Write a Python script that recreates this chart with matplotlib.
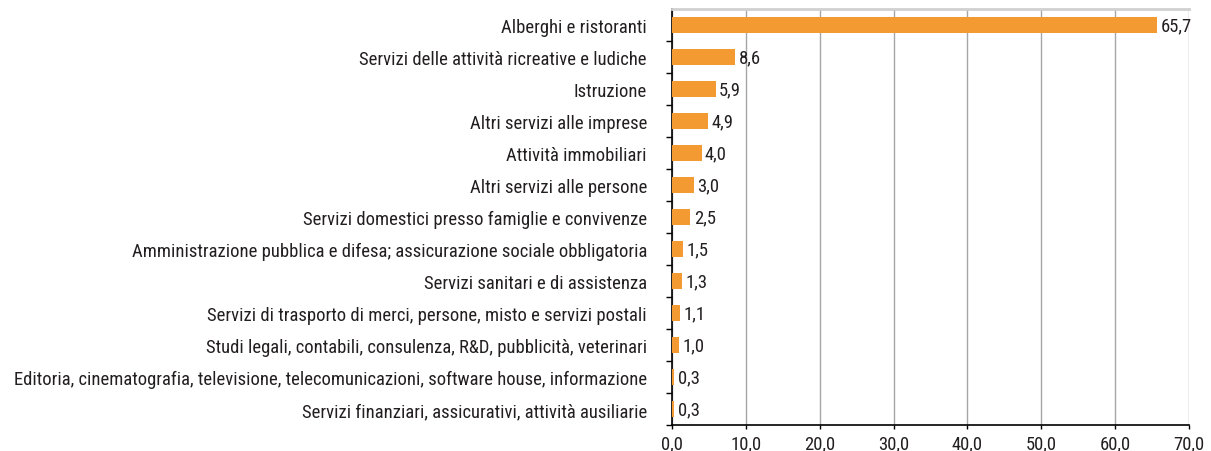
import matplotlib
matplotlib.use("Agg")
import matplotlib.pyplot as plt
from matplotlib import font_manager

CATEGORIE = [
    "Alberghi e ristoranti",
    "Servizi delle attività ricreative e ludiche",
    "Istruzione",
    "Altri servizi alle imprese",
    "Attività immobiliari",
    "Altri servizi alle persone",
    "Servizi domestici presso famiglie e convivenze",
    "Amministrazione pubblica e difesa; assicurazione sociale obbligatoria",
    "Servizi sanitari e di assistenza",
    "Servizi di trasporto di merci, persone, misto e servizi postali",
    "Studi legali, contabili, consulenza, R&D, pubblicità, veterinari",
    "Editoria, cinematografia, televisione, telecomunicazioni, software house, informazione",
    "Servizi finanziari, assicurativi, attività ausiliarie",
]
VALORI = [65.7, 8.6, 5.9, 4.9, 4.0, 3.0, 2.5, 1.5, 1.3, 1.1, 1.0, 0.3, 0.3]
TICKS_X = [0, 10, 20, 30, 40, 50, 60, 70]

# font stretto tipo Univers Condensed
nomi = {f.name for f in font_manager.fontManager.ttflist}
candidati = ["Roboto Condensed", "Archivo Narrow", "Barlow Condensed", "DejaVu Sans"]
FONT = next(c for c in candidati if c in nomi)
plt.rcParams["font.family"] = [FONT, "DejaVu Sans"]
plt.rcParams["font.size"] = 13.4

ARANCIO = "#F39A33"
TESTO = "#231F20"

fig = plt.figure(figsize=(12.11, 4.52), dpi=100)
ax = fig.add_axes([0.5549, 0.0575, 0.4269, 0.9204])

pos = list(range(len(CATEGORIE)))
ax.barh(pos, VALORI, height=0.47, color=ARANCIO, zorder=3)
for p, v in zip(pos, VALORI):
    ax.annotate(f"{v:.1f}".replace(".", ","), (v, p), xytext=(2.5, 0),
                textcoords="offset points", va="center", ha="left",
                color=TESTO, zorder=4)

ax.set_ylim(len(CATEGORIE) - 0.5, -0.5)
ax.set_xlim(0, 70)
ax.set_xticks(TICKS_X)
ax.set_xticklabels([f"{t:.1f}".replace(".", ",") for t in TICKS_X], color=TESTO)
ax.set_yticks(pos)
ax.set_yticklabels(CATEGORIE, color=TESTO)
ax.set_yticks([p + 0.5 for p in pos], minor=True)
ax.tick_params(axis="y", which="major", length=0, pad=18)
ax.tick_params(axis="y", which="minor", length=4, width=1, color="black")
ax.tick_params(axis="x", length=3, width=1, color="black", pad=4)

ax.grid(axis="x", color="#A6A6A6", linewidth=1, zorder=0)
for lato in ("left", "bottom"):
    ax.spines[lato].set_color("black")
    ax.spines[lato].set_linewidth(1.2)
ax.spines["top"].set_color("#D0D0D0")
ax.spines["top"].set_linewidth(2)
ax.spines["right"].set_visible(False)

fig.savefig("out.png", dpi=100)
